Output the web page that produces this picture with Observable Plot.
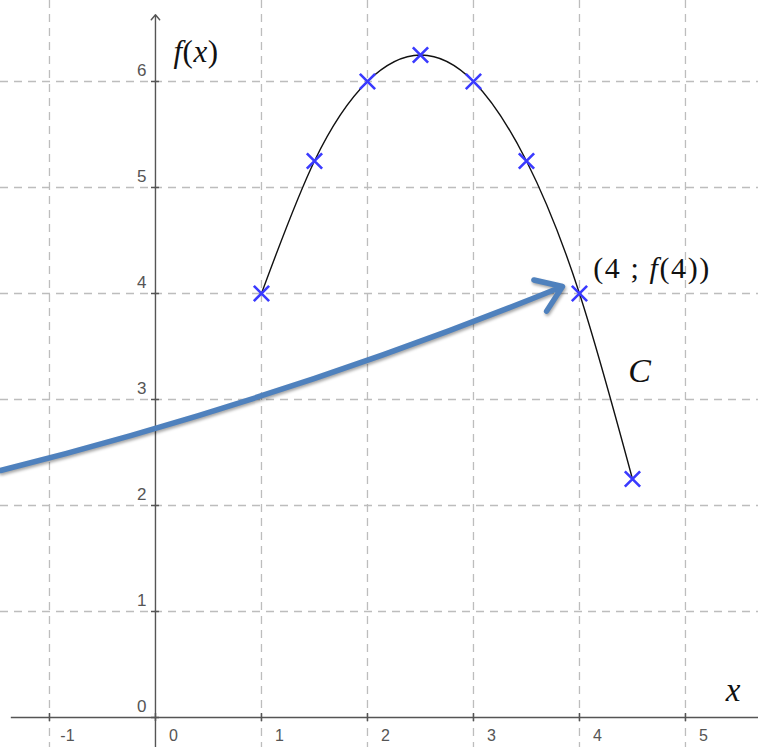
<!DOCTYPE html>
<html>
<head>
<meta charset="utf-8">
<script src="https://cdn.jsdelivr.net/npm/d3@7"></script>
<script src="https://cdn.jsdelivr.net/npm/@observablehq/plot@0.6"></script>
<style>
  html, body { margin: 0; padding: 0; background: #fff; }
  #chart svg { display: block; }
</style>
</head>
<body>
<div id="chart"></div>
<script>
// Sample points of f on [1; 4.5]
const xs = [1, 1.5, 2, 2.5, 3, 3.5, 4, 4.5];
const ys = [4, 5.25, 6, 6.25, 6, 5.25, 4, 2.25];

// Grid and tick values
const gridX = [-1, 1, 2, 3, 4, 5];
const gridY = [1, 2, 3, 4, 5, 6];
const ticksX = [-1, 0, 1, 2, 3, 4, 5];
const ticksY = [0, 1, 2, 3, 4, 5, 6];

// Visible window of the plane
const xDomain = [-1.462, 5.689];
const yDomain = [-0.283, 6.764];

// Pointer arrow towards the point (4 ; f(4))
const pointerFrom = [-1.462, 2.33];
const pointerTo = [3.84, 4.066];

// Annotations
const labels = [
  {x: 0.17, y: 6.28, text: "f(x)"},
  {x: 5.38, y: 0.26, text: "x"},
  {x: 4.13, y: 4.24, text: "(4 ; f(4))"},
  {x: 4.46, y: 3.27, text: "C"}
];

const points = xs.map((x, i) => ({x, y: ys[i]}));
const axisColor = "#555";
const gridColor = "#bdbdbd";

const chart = Plot.plot({
  width: 758,
  height: 747,
  margin: 0,
  x: {domain: xDomain, axis: null},
  y: {domain: yDomain, axis: null},
  style: {background: "#fff"},
  marks: [
    // dashed grid
    Plot.ruleX(gridX, {x: d => d, stroke: gridColor, strokeWidth: 1.3, strokeDasharray: "8,6"}),
    Plot.ruleY(gridY, {y: d => d, stroke: gridColor, strokeWidth: 1.3, strokeDasharray: "8,6"}),
    // axes
    Plot.ruleY([0], {x1: -1.36, x2: xDomain[1], stroke: axisColor, strokeWidth: 1.6}),
    Plot.arrow([0], {x1: 0, x2: 0, y1: yDomain[0], y2: 6.63, stroke: axisColor, strokeWidth: 1.4, headLength: 7, headAngle: 80}),
    // small tick marks on the axes
    Plot.ruleX(ticksX, {x: d => d, y1: 0, y2: 0, insetTop: -4, insetBottom: -4, stroke: axisColor, strokeWidth: 1.5}),
    Plot.ruleY(ticksY, {y: d => d, x1: 0, x2: 0, insetLeft: -4, insetRight: -4, stroke: axisColor, strokeWidth: 1.5}),
    // tick labels
    Plot.text(ticksX, {x: d => d, y: 0, text: d => String(d), dx: 18, dy: 18,
      fontSize: 16, fill: "#555", fontFamily: "Liberation Sans, Arial, sans-serif"}),
    Plot.text(ticksY, {x: 0, y: d => d, text: d => String(d), dx: -9, dy: -11, textAnchor: "end",
      fontSize: 17, fill: "#555", fontFamily: "Liberation Sans, Arial, sans-serif"}),
    // the curve C
    Plot.line(points, {x: "x", y: "y", curve: "natural", stroke: "#111", strokeWidth: 1.4}),
    // sample points
    Plot.dot(points, {x: "x", y: "y", symbol: "times", r: 7, stroke: "#3a3aff", strokeWidth: 2.6}),
    // pointer arrow
    Plot.arrow([0], {x1: pointerFrom[0], y1: pointerFrom[1], x2: pointerTo[0], y2: pointerTo[1],
      bend: -4, stroke: "#4f81bd", strokeWidth: 5.5, headLength: 8, headAngle: 70, ariaDescription: "pointer"}),
    // annotations
    Plot.text(labels, {x: "x", y: "y", text: "text", textAnchor: "start",
      fontFamily: "Liberation Serif, Times New Roman, serif", fill: "#111", ariaDescription: "annot"})
  ]
});

// Typeset the annotations: italic variables, upright punctuation
const svg = d3.select(chart);
const styleMap = {
  "f(x)": {size: 31, spacing: 0.5, parts: [["f", true], ["(", false], ["x", true], [")", false]]},
  "x": {size: 33, spacing: 0, parts: [["x", true]]},
  "(4 ; f(4))": {size: 30, spacing: 1.6, parts: [["(4 ; ", false], ["f", true], ["(4))", false]]},
  "C": {size: 34, spacing: 0, parts: [["C", true]]}
};
svg.selectAll('g[aria-description="annot"] text').each(function() {
  const t = d3.select(this);
  const s = styleMap[t.text()];
  if (!s) return;
  t.text("").attr("font-size", s.size).attr("letter-spacing", s.spacing);
  for (const [str, it] of s.parts) {
    t.append("tspan").text(str).attr("font-style", it ? "italic" : "normal");
  }
});
// soft shadow under the pointer arrow
svg.selectAll('g[aria-description="pointer"]').style("filter", "drop-shadow(1px 2px 1.5px rgba(0,0,0,0.35))");

document.getElementById("chart").appendChild(chart);
</script>
</body>
</html>
